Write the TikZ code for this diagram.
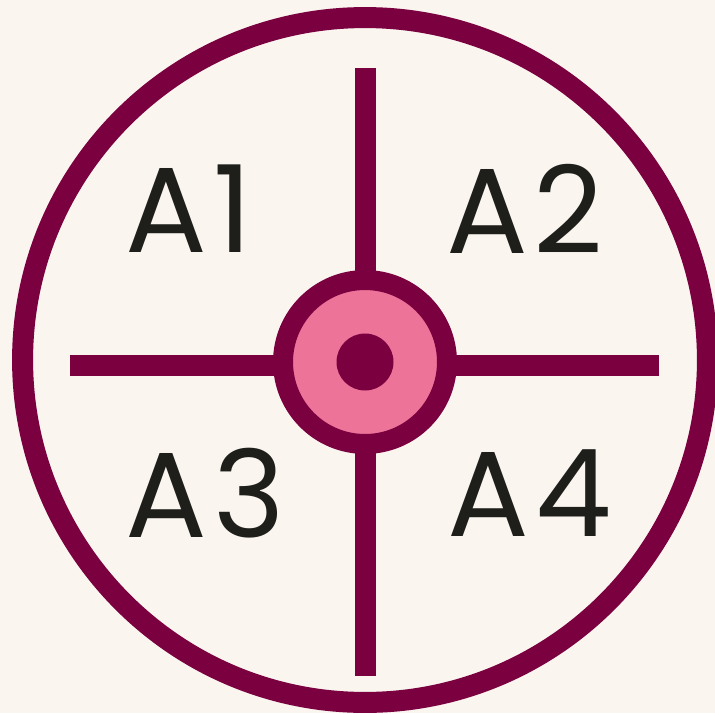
\documentclass[tikz,border=0pt]{standalone}
\usepackage{fontspec}
\setmainfont{Poppins}[LetterSpace=5]
\usepackage{tikz}

\definecolor{wine}{HTML}{7A0040}
\definecolor{rosy}{HTML}{EE7399}
\definecolor{paper}{HTML}{FAF5EE}
\definecolor{ink}{HTML}{1E1E1A}

\begin{document}
\begin{tikzpicture}[x=0.02cm,y=-0.02cm]
\tikzset{spoke/.style={wine,line width=0.42cm},
         quad/.style={text=ink,font=\fontsize{69}{69}\selectfont,inner sep=0pt}}
\fill[paper] (0,0) rectangle (715,713);
\useasboundingbox (0,0) rectangle (715,713);
% outer ring
\node[circle,draw=wine,line width=0.42cm,minimum size=13.7cm,inner sep=0pt] (rim) at (365,360) {};
% cross hairs, ends as named points
\coordinate (top) at (365,68);
\coordinate (bot) at (365,676);
\coordinate (lft) at (70,365);
\coordinate (rgt) at (659,365);
\draw[spoke] (top) -- (bot);
\draw[spoke] (lft) -- (rgt);
% hub with its dot
\node[circle,draw=wine,fill=rosy,line width=0.4cm,minimum size=3.28cm,inner sep=0pt] (hub) at (365,362) {};
\node[circle,fill=wine,minimum size=1.14cm,inner sep=0pt] (dot) at (hub.center) {};
% the four quadrants
\node[quad] (a1) at (189,209) {A1};
\node[quad] (a2) at (525,209) {A2};
\node[quad] (a3) at (205,493) {A3};
\node[quad] (a4) at (530,493) {A4};
\end{tikzpicture}
\end{document}
